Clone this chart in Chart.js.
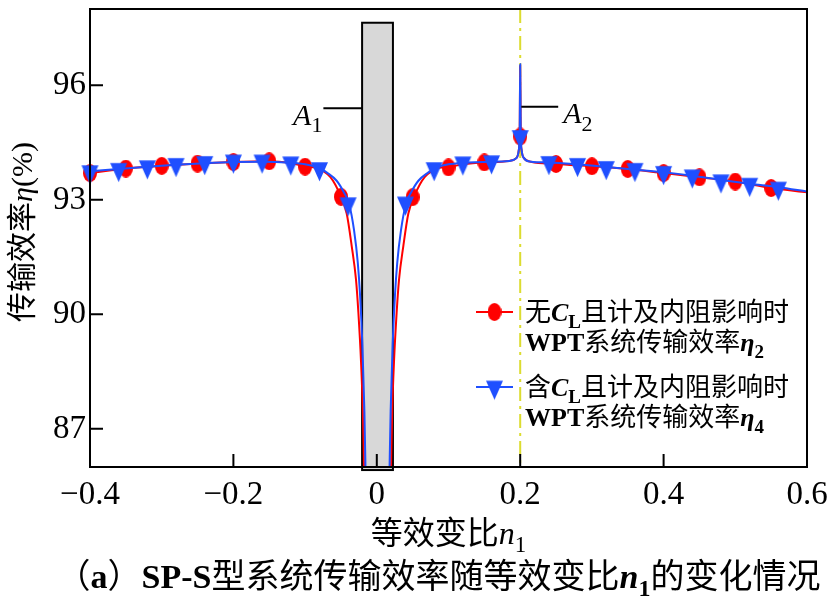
<!DOCTYPE html>
<html>
<head>
<meta charset="utf-8">
<script src="https://cdn.jsdelivr.net/npm/chart.js@4.4.0/dist/chart.umd.min.js"></script>
<style>
  html, body { margin: 0; padding: 0; background: #fff; }
</style>
</head>
<body>
<canvas id="chart" width="828" height="605"></canvas>
<script>
// Efficiency vs equivalent turns ratio n1 (SP-S system)

const xTicks = [-0.4, -0.2, 0, 0.2, 0.4, 0.6];
const xTickLabels = ["\u22120.4", "\u22120.2", "0", "0.2", "0.4", "0.6"];
const yTicks = [87, 90, 93, 96];

// eta2: without C_L (red line)
const eta2LineX = [
  -0.4, -0.35, -0.3, -0.25, -0.2, -0.15, -0.12, -0.1, -0.085, -0.075, -0.065,
  -0.058, -0.05, -0.042, -0.035, -0.029, -0.0257, -0.022, -0.0195, -0.018, -0.016,
  0.018, 0.02, 0.0215, 0.024, 0.0277, 0.031, 0.037, 0.044, 0.052, 0.06, 0.067,
  0.077, 0.087, 0.1, 0.12, 0.15, 0.185, 0.195, 0.198, 0.1993, 0.2, 0.2007, 0.202,
  0.205, 0.215, 0.25, 0.3, 0.35, 0.4, 0.45, 0.5, 0.55, 0.6,
];
const eta2LineY = [
  93.7, 93.82, 93.89, 93.95, 93.99, 94.01, 93.96, 93.88, 93.84, 93.76, 93.6,
  93.4, 93.08, 92.64, 91.79, 90.91, 90.05, 88.76, 87.46, 86.09, 84.0,
  84.0, 86.09, 87.46, 88.76, 90.05, 90.91, 91.79, 92.64, 93.08, 93.4, 93.6,
  93.76, 93.84, 93.86, 93.93, 93.98, 94.02, 94.1, 94.3, 94.8, 96.52, 94.8, 94.3,
  94.1, 94.0, 93.94, 93.88, 93.81, 93.7, 93.59, 93.48, 93.31, 93.2,
];

// eta4: with C_L (blue line)
const eta4LineX = [
  -0.4, -0.36, -0.32, -0.28, -0.24, -0.2, -0.16, -0.12, -0.1, -0.08, -0.07,
  -0.056, -0.046, -0.0387, -0.0317, -0.0265, -0.0233, -0.0201, -0.0173, -0.0159, -0.0145,
  0.0165, 0.0179, 0.0193, 0.0221, 0.0253, 0.0285, 0.0337, 0.0407, 0.048, 0.058,
  0.072, 0.082, 0.1, 0.12, 0.16, 0.185, 0.195, 0.198, 0.1993, 0.2, 0.2007, 0.202,
  0.205, 0.215, 0.24, 0.28, 0.32, 0.36, 0.4, 0.44, 0.48, 0.52, 0.56, 0.6,
];
const eta4LineY = [
  93.75, 93.81, 93.87, 93.92, 93.96, 93.99, 94.0, 93.97, 93.93, 93.84, 93.72,
  93.5, 93.2, 92.9, 92.2, 91.35, 90.49, 89.2, 87.46, 86.09, 84.0,
  84.0, 86.09, 87.46, 89.2, 90.49, 91.35, 92.2, 92.9, 93.2, 93.5,
  93.72, 93.84, 93.93, 93.97, 94.0, 94.02, 94.1, 94.3, 94.8, 96.55, 94.8, 94.3,
  94.1, 94.0, 93.98, 93.93, 93.86, 93.79, 93.72, 93.63, 93.52, 93.42, 93.33, 93.22,
];

// marker samples
const eta2MarkX = [-0.4, -0.35, -0.3, -0.25, -0.2, -0.15, -0.1, -0.05, 0.05, 0.1, 0.15, 0.2, 0.25, 0.3, 0.35, 0.4, 0.45, 0.5, 0.55];
const eta2MarkY = [93.7, 93.82, 93.89, 93.95, 93.99, 94.01, 93.87, 93.08, 93.07, 93.85, 93.98, 94.66, 93.94, 93.88, 93.81, 93.7, 93.59, 93.48, 93.31];
const eta4MarkX = [-0.4, -0.36, -0.32, -0.28, -0.24, -0.2, -0.16, -0.12, -0.08, -0.04, 0.04, 0.08, 0.12, 0.16, 0.2, 0.24, 0.28, 0.32, 0.36, 0.4, 0.44, 0.48, 0.52, 0.56];
const eta4MarkY = [93.74, 93.8, 93.87, 93.93, 93.98, 94.02, 94.02, 93.97, 93.82, 92.9, 92.92, 93.82, 93.97, 94.0, 94.66, 93.98, 93.93, 93.85, 93.8, 93.72, 93.63, 93.5, 93.41, 93.31];

// shaded region A1 and reference line A2
const shadeX = [-0.0205, 0.0225];
const shadeY = [85.92, 97.64];
const refLineX = 0.2;
const a1Lead = { x: [-0.0745, -0.0205], y: 95.4 };
const a2Lead = { x: [0.2015, 0.253], y: 95.44 };

const RED = "#ff0000";
const BLUE = "#1f4fff";
const FONT = '"Liberation Serif", "Noto Sans CJK SC", serif';

function toPoints(xs, ys) {
  return xs.map((x, i) => ({ x: x, y: ys[i] }));
}

function makeEllipse(w, h, color) {
  const c = document.createElement("canvas");
  c.width = w;
  c.height = h;
  const g = c.getContext("2d");
  g.fillStyle = color;
  g.beginPath();
  g.ellipse(w / 2, h / 2, w / 2, h / 2, 0, 0, Math.PI * 2);
  g.fill();
  return c;
}

// downward triangle, centroid placed at canvas centre
function makeTriangle(w, h, color) {
  const size = Math.ceil((h * 4) / 3) + 1;
  const c = document.createElement("canvas");
  c.width = Math.max(w + 1, size);
  c.height = size;
  const g = c.getContext("2d");
  const cx = c.width / 2;
  const top = size / 2 - h / 3;
  g.fillStyle = color;
  g.beginPath();
  g.moveTo(cx - w / 2, top);
  g.lineTo(cx + w / 2, top);
  g.lineTo(cx, top + h);
  g.closePath();
  g.fill();
  return c;
}

const redDot = makeEllipse(14, 18, RED);
const blueTri = makeTriangle(17, 19, BLUE);

/**
 * Draw text made of segments (italic / bold / subscript)
 */
function drawRich(ctx, segs, x, y, size, align) {
  const fontOf = (s) =>
    (s.i ? "italic " : "") + (s.b ? "bold " : "") +
    Math.round(s.sub ? size * 0.72 : size) + "px " + FONT;
  let total = 0;
  const widths = segs.map((s) => {
    ctx.font = fontOf(s);
    const w = ctx.measureText(s.t).width;
    total += w;
    return w;
  });
  let cx = x;
  if (align === "center") cx = x - total / 2;
  if (align === "right") cx = x - total;
  const base = y + size * 0.35;
  ctx.textAlign = "left";
  ctx.textBaseline = "alphabetic";
  segs.forEach((s, i) => {
    ctx.font = fontOf(s);
    ctx.fillText(s.t, cx, s.sub ? base + size * 0.25 : base);
    cx += widths[i];
  });
}

const figurePlugin = {
  id: "figure",
  beforeDatasetsDraw(chart) {
    const { ctx, chartArea: a, scales } = chart;
    const xs = scales.x;
    const ys = scales.y;
    ctx.save();
    // dash-dot reference line
    const rx = xs.getPixelForValue(refLineX);
    ctx.strokeStyle = "#dcdc30";
    ctx.lineWidth = 2;
    ctx.setLineDash([14, 5, 3, 5]);
    ctx.beginPath();
    ctx.moveTo(rx, a.top);
    ctx.lineTo(rx, a.bottom);
    ctx.stroke();
    ctx.setLineDash([]);
    // shaded region
    const l = xs.getPixelForValue(shadeX[0]);
    const r = xs.getPixelForValue(shadeX[1]);
    const t = ys.getPixelForValue(shadeY[1]);
    const b = ys.getPixelForValue(shadeY[0]);
    ctx.fillStyle = "#d8d8d8";
    ctx.fillRect(l, t, r - l, b - t);
    ctx.strokeStyle = "#000";
    ctx.lineWidth = 2;
    ctx.strokeRect(l, t, r - l, b - t);
    ctx.restore();
  },
  afterDatasetsDraw(chart) {
    const { ctx, chartArea: a, scales } = chart;
    const xs = scales.x;
    const ys = scales.y;
    ctx.save();
    ctx.fillStyle = "#000";
    ctx.strokeStyle = "#000";
    ctx.lineWidth = 2;

    // frame
    ctx.strokeRect(a.left, a.top, a.right - a.left, a.bottom - a.top);

    // inward tick marks
    ctx.beginPath();
    xTicks.forEach((v) => {
      const px = xs.getPixelForValue(v);
      ctx.moveTo(px, a.bottom);
      ctx.lineTo(px, a.bottom - 13);
    });
    yTicks.forEach((v) => {
      const py = ys.getPixelForValue(v);
      ctx.moveTo(a.left, py);
      ctx.lineTo(a.left + 13, py);
    });
    ctx.stroke();

    // A1 / A2 leaders
    ctx.beginPath();
    const a1y = ys.getPixelForValue(a1Lead.y);
    const a1l = xs.getPixelForValue(a1Lead.x[0]);
    ctx.moveTo(a1l, a1y);
    ctx.lineTo(xs.getPixelForValue(a1Lead.x[1]), a1y);
    const a2y = ys.getPixelForValue(a2Lead.y);
    const a2r = xs.getPixelForValue(a2Lead.x[1]);
    ctx.moveTo(xs.getPixelForValue(a2Lead.x[0]), a2y);
    ctx.lineTo(a2r, a2y);
    ctx.stroke();
    drawRich(ctx, [{ t: "A", i: true }, { t: "1", sub: true }], a1l - 1, a1y + 6, 30, "right");
    drawRich(ctx, [{ t: "A", i: true }, { t: "2", sub: true }], a2r + 5, a2y + 6, 30, "left");

    // legend
    const lx = 476;
    const rows = [
      { y: 312, color: RED, img: redDot },
      { y: 387, color: BLUE, img: blueTri },
    ];
    rows.forEach((row) => {
      ctx.strokeStyle = row.color;
      ctx.beginPath();
      ctx.moveTo(lx, row.y);
      ctx.lineTo(lx + 37, row.y);
      ctx.stroke();
      ctx.drawImage(row.img, lx + 18.5 - row.img.width / 2, row.y - row.img.height / 2);
    });
    ctx.fillStyle = "#000";
    const tx = 525;
    drawRich(ctx, [{ t: "无" }, { t: "C", i: true, b: true }, { t: "L", sub: true, b: true }, { t: "且计及内阻影响时" }], tx, 312, 26, "left");
    drawRich(ctx, [{ t: "WPT", b: true }, { t: "系统传输效率" }, { t: "η", i: true, b: true }, { t: "2", sub: true, b: true }], tx, 342, 26, "left");
    drawRich(ctx, [{ t: "含" }, { t: "C", i: true, b: true }, { t: "L", sub: true, b: true }, { t: "且计及内阻影响时" }], tx, 387, 26, "left");
    drawRich(ctx, [{ t: "WPT", b: true }, { t: "系统传输效率" }, { t: "η", i: true, b: true }, { t: "4", sub: true, b: true }], tx, 417, 26, "left");

    // axis titles
    const midX = (a.left + a.right) / 2;
    drawRich(ctx, [{ t: "等效变比" }, { t: "n", i: true }, { t: "1", sub: true }], midX, 533, 32, "center");
    ctx.save();
    ctx.translate(21, (a.top + a.bottom) / 2 - 6);
    ctx.rotate(-Math.PI / 2);
    drawRich(ctx, [{ t: "传输效率" }, { t: "η", i: true }, { t: "(%)" }], 0, 0, 30, "center");
    ctx.restore();

    // caption
    drawRich(ctx, [
      { t: "（" }, { t: "a", b: true }, { t: "）" },
      { t: "SP-S", b: true }, { t: "型系统传输效率随等效变比" },
      { t: "n", i: true, b: true }, { t: "1", sub: true, b: true },
      { t: "的变化情况" },
    ], midX - 10, 576, 34, "center");
    ctx.restore();
  },
};

new Chart(document.getElementById("chart"), {
  type: "line",
  data: {
    datasets: [
      {
        label: "eta2",
        data: toPoints(eta2LineX, eta2LineY),
        borderColor: RED,
        borderWidth: 2,
        pointRadius: 0,
        cubicInterpolationMode: "monotone",
        order: 4,
      },
      {
        label: "eta2 markers",
        data: toPoints(eta2MarkX, eta2MarkY),
        showLine: false,
        pointStyle: redDot,
        pointRadius: 8,
        clip: false,
        order: 3,
      },
      {
        label: "eta4",
        data: toPoints(eta4LineX, eta4LineY),
        borderColor: BLUE,
        borderWidth: 2,
        pointRadius: 0,
        cubicInterpolationMode: "monotone",
        order: 2,
      },
      {
        label: "eta4 markers",
        data: toPoints(eta4MarkX, eta4MarkY),
        showLine: false,
        pointStyle: blueTri,
        pointRadius: 8,
        clip: false,
        order: 1,
      },
    ],
  },
  options: {
    responsive: false,
    animation: false,
    layout: { padding: { left: 0, right: 21, top: 3, bottom: 0 } },
    plugins: {
      legend: { display: false },
      tooltip: { enabled: false },
    },
    scales: {
      x: {
        type: "linear",
        min: -0.4,
        max: 0.6,
        afterBuildTicks: (s) => {
          s.ticks = xTicks.map((v) => ({ value: v }));
        },
        ticks: {
          callback: (v) => xTickLabels[xTicks.indexOf(v)],
          font: { family: FONT, size: 33 },
          color: "#000",
          padding: 9,
          maxRotation: 0,
          autoSkip: false,
        },
        grid: { display: false, drawTicks: false },
        border: { display: false },
        afterFit: (s) => {
          s.height = 138;
          s.paddingLeft = 0;
          s.paddingRight = 0;
        },
      },
      y: {
        min: 86,
        max: 98,
        afterBuildTicks: (s) => {
          s.ticks = yTicks.map((v) => ({ value: v }));
        },
        ticks: {
          callback: (v) => String(v),
          font: { family: FONT, size: 33 },
          color: "#000",
          padding: 4,
        },
        grid: { display: false, drawTicks: false },
        border: { display: false },
        afterFit: (s) => {
          s.width = 90;
          s.paddingTop = 0;
          s.paddingBottom = 0;
        },
      },
    },
  },
  plugins: [figurePlugin],
});
</script>
</body>
</html>
